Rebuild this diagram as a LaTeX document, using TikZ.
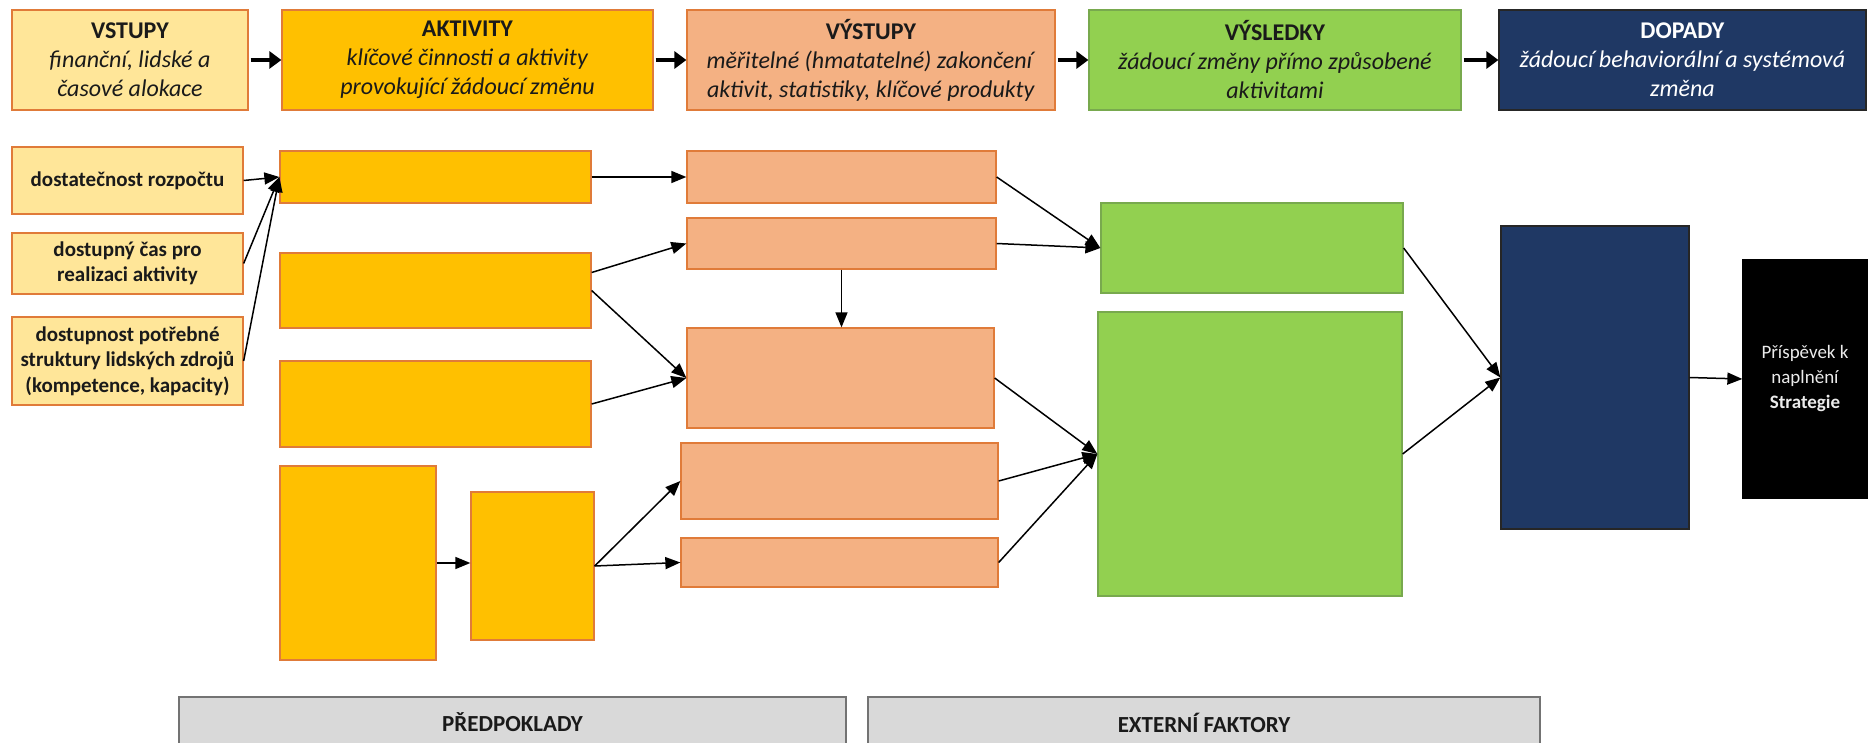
\documentclass[tikz,border=0pt]{standalone}
\usepackage{fontspec}
\setmainfont{Carlito}
\usetikzlibrary{arrows.meta}
\definecolor{vstfill}{HTML}{FFE699}
\definecolor{aktfill}{HTML}{FFC000}
\definecolor{vysfill}{HTML}{F4B183}
\definecolor{vslfill}{HTML}{92D050}
\definecolor{dopfill}{HTML}{1F3864}
\definecolor{orline}{HTML}{E07B39}
\definecolor{grline}{HTML}{78A94E}
\definecolor{greyfill}{HTML}{D9D9D9}
\definecolor{txtdark}{HTML}{1A1A1A}
\begin{document}
\begin{tikzpicture}[x=1pt, y=-1pt,
  box/.style={rectangle, inner sep=0pt, align=center, line width=1.3pt, text=txtdark},
  vst/.style={box, fill=vstfill, draw=orline},
  akt/.style={box, fill=aktfill, draw=orline},
  vys/.style={box, fill=vysfill, draw=orline},
  vsl/.style={box, fill=vslfill, draw=grline},
  dop/.style={box, fill=dopfill, draw=black!85, text=white},
  hdr/.style={font=\fontsize{24}{29}\selectfont},
  inp/.style={font=\bfseries\fontsize{21}{25.5}\selectfont},
  flow/.style={-{Triangle[length=15pt,width=12pt]}, line width=1.5pt},
  bigflow/.style={-{Triangle[length=12pt,width=17pt]}, line width=4.5pt, shorten <=2pt}]
\useasboundingbox (0,0) rectangle (1868,743);
\clip (0,0) rectangle (1868,743);
\node[vst, hdr, minimum width=236pt, minimum height=100pt] (hvst) at (130,60){\textbf{VSTUPY}\\\textit{finanční, lidské a}\\\textit{časové alokace}};
\node[akt, hdr, minimum width=371pt, minimum height=100pt] (hakt) at (467.5,60){\textbf{AKTIVITY}\\\textit{klíčové činnosti a aktivity}\\\textit{provokující žádoucí změnu}};
\node[vys, hdr, minimum width=368pt, minimum height=100pt] (hvys) at (871,60){\textbf{VÝSTUPY}\\\textit{měřitelné (hmatatelné) zakončení}\\\textit{aktivit, statistiky, klíčové produkty}};
\node[vsl, hdr, minimum width=372pt, minimum height=100pt] (hvsl) at (1275,60){\textbf{VÝSLEDKY}\\\textit{žádoucí změny přímo způsobené}\\\textit{aktivitami}};
\node[dop, hdr, minimum width=367pt, minimum height=100pt] (hdop) at (1682.5,60){\textbf{DOPADY}\\\textit{žádoucí behaviorální a systémová}\\\textit{změna}};
\draw[bigflow](hvst) -- (hakt);
\draw[bigflow](hakt) -- (hvys);
\draw[bigflow](hvys) -- (hvsl);
\draw[bigflow](hvsl) -- (hdop);
\node[vst, inp, minimum width=231pt, minimum height=67pt] (in1) at (127.5,180.5){dostatečnost rozpočtu};
\node[vst, inp, minimum width=231pt, minimum height=61pt] (in2) at (127.5,263.5){dostupný čas pro\\realizaci aktivity};
\node[vst, inp, minimum width=231pt, minimum height=88pt] (in3) at (127.5,361){dostupnost potřebné\\struktury lidských zdrojů\\(kompetence, kapacity)};
\node[akt, minimum width=311pt, minimum height=52pt] (akt1) at (435.5,177){};
\node[akt, minimum width=311pt, minimum height=75pt] (akt2) at (435.5,290.5){};
\node[akt, minimum width=311pt, minimum height=86pt] (akt3) at (435.5,404){};
\node[akt, minimum width=156pt, minimum height=194pt] (akt4) at (358,563){};
\node[akt, minimum width=123pt, minimum height=148pt] (akt5) at (532.5,566){};
\node[vys, minimum width=309pt, minimum height=52pt] (vys1) at (841.5,177){};
\node[vys, minimum width=309pt, minimum height=51pt] (vys2) at (841.5,243.5){};
\node[vys, minimum width=307pt, minimum height=100pt] (vys3) at (840.5,378){};
\node[vys, minimum width=317pt, minimum height=76pt] (vys4) at (839.5,481){};
\node[vys, minimum width=317pt, minimum height=49pt] (vys5) at (839.5,562.5){};
\node[vsl, minimum width=302pt, minimum height=90pt] (vsl1) at (1252,248){};
\node[vsl, minimum width=304pt, minimum height=284pt] (vsl2) at (1250,454){};
\node[dop, minimum width=188pt, minimum height=303pt] (dop1) at (1595,377.5){};
\node[box, fill=black, draw=black, text=white!92!black, font=\fontsize{19}{25}\selectfont, minimum width=124pt, minimum height=238pt] (str1) at (1805,379){Příspěvek k\\naplnění\\\textbf{Strategie}};
\node[box, fill=greyfill, draw=black!55, font=\bfseries\fontsize{23}{28}\selectfont, minimum width=667pt, minimum height=51pt] (pred) at (512.5,722.5){PŘEDPOKLADY};
\node[box, fill=greyfill, draw=black!55, font=\bfseries\fontsize{23}{28}\selectfont, minimum width=672pt, minimum height=51pt] (ext) at (1204,722.5){EXTERNÍ FAKTORY};
\draw[flow](in1.east) -- (akt1.west);
\draw[flow](in2.east) -- (akt1.west);
\draw[flow](in3.east) -- (akt1.west);
\draw[flow](akt1.east) -- (vys1.west);
\draw[flow]([yshift=18pt]akt2.east) -- (vys2.west);
\draw[flow](akt2.east) -- (vys3.west);
\draw[flow](akt3.east) -- (vys3.west);
\draw[flow](vys2.south) -- (vys2.south |- vys3.north);
\draw[flow](akt4.east) -- (akt4.east -| akt5.west);
\draw[flow](akt5.east) -- (vys4.west);
\draw[flow](akt5.east) -- (vys5.west);
\draw[flow](vys1.east) -- (vsl1.west);
\draw[flow](vys2.east) -- (vsl1.west);
\draw[flow](vys3.east) -- (vsl2.west);
\draw[flow](vys4.east) -- (vsl2.west);
\draw[flow](vys5.east) -- (vsl2.west);
\draw[flow](vsl1.east) -- (dop1.west);
\draw[flow](vsl2.east) -- (dop1.west);
\draw[flow](dop1.east) -- (str1.west);
\end{tikzpicture}
\end{document}
